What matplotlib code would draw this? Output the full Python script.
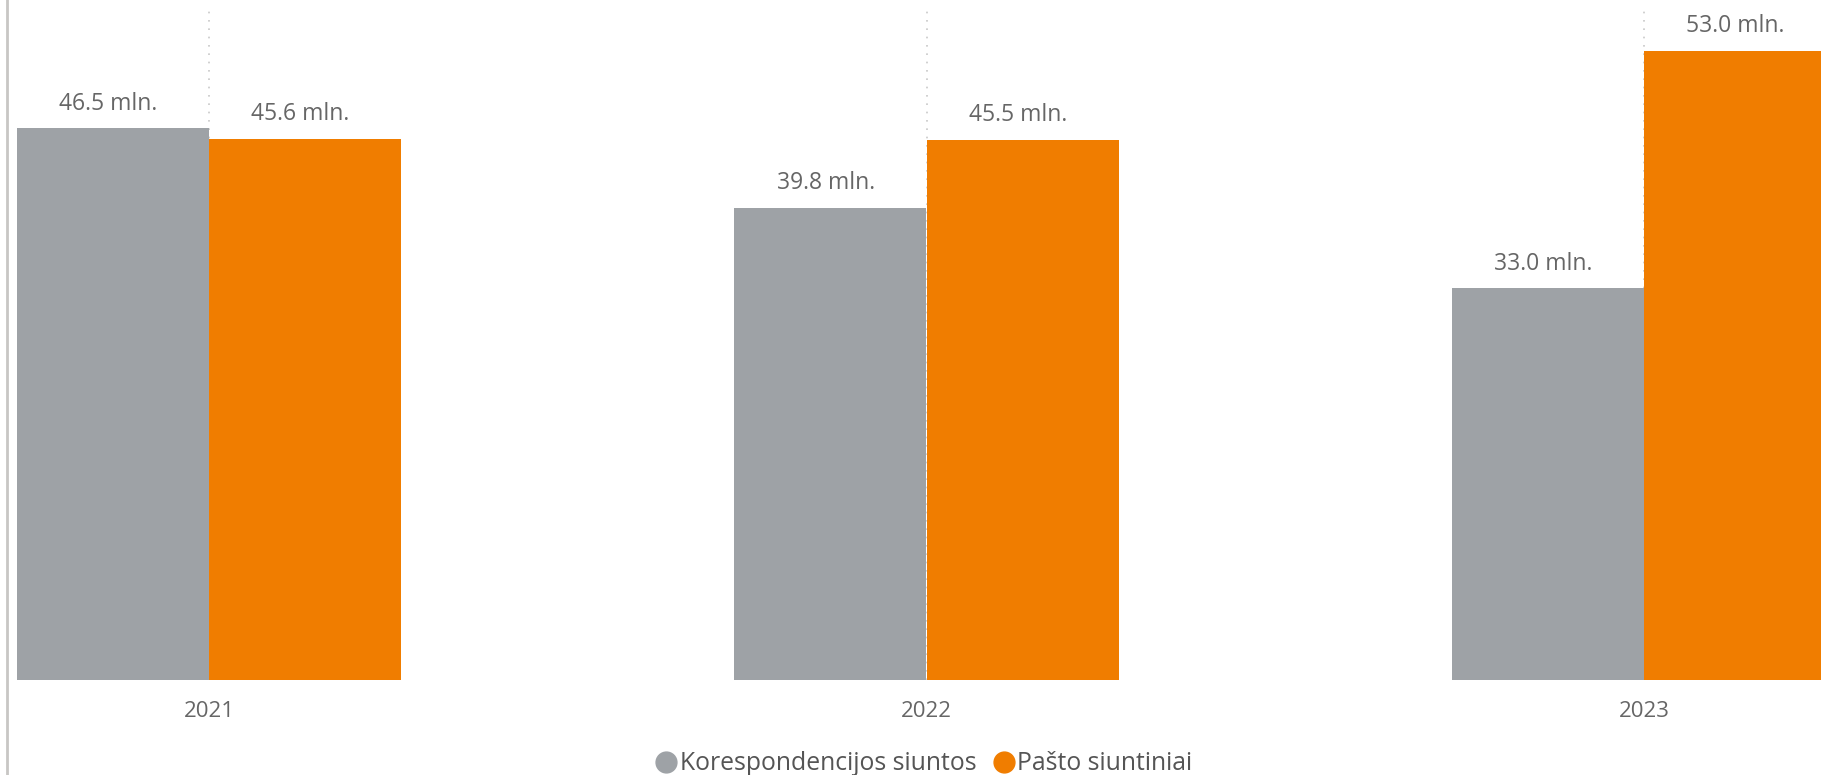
import matplotlib

matplotlib.use("Agg")

import matplotlib.pyplot as plt
from matplotlib.lines import Line2D
import numpy as np


years = ["2021", "2022", "2023"]
korespondencija = [46.5, 39.8, 33.0]
siuntiniai = [45.6, 45.5, 53.0]
series_names = ["Korespondencijos siuntos", "Pašto siuntiniai"]

GRAY = "#9EA2A6"
ORANGE = "#F07D00"
TEXT = "#666666"

plt.rcParams["font.family"] = ["Open Sans", "DejaVu Sans"]

fig = plt.figure(figsize=(18.21, 7.75), dpi=100)

# axes placed by pixel so the 2023 group runs off the right edge like the original
W, H = 1821, 775
ax = fig.add_axes([0, (H - 680) / H, 1, (680 - 11) / H])

x = np.arange(len(years))
width = 192 / 717.5
step = 717.5
ax.set_xlim(-209 / step, (W - 209) / step)
ax.set_ylim(0, (680 - 11) / 11.87)

for xi in x:
    ax.axvline(xi, color="#C8C8C8", linestyle=(0, (1, 4)), linewidth=1.2, zorder=0)

ax.bar(x - width / 2, korespondencija, width, color=GRAY, zorder=2)
ax.bar(x + width / 2, siuntiniai, width, color=ORANGE, zorder=2)

for xi, a, b in zip(x, korespondencija, siuntiniai):
    ax.annotate(f"{a:.1f} mln.", (xi - width / 2, a), xytext=(-3.5, 9),
                textcoords="offset points", ha="center", va="bottom",
                fontsize=16.5, color=TEXT)
    ax.annotate(f"{b:.1f} mln.", (xi + width / 2, b), xytext=(-3.5, 9),
                textcoords="offset points", ha="center", va="bottom",
                fontsize=16.5, color=TEXT)

ax.set_xticks(x)
ax.set_xticklabels(years, fontsize=16, color=TEXT)
ax.tick_params(axis="x", length=0, pad=15)
ax.set_yticks([])
for spine in ax.spines.values():
    spine.set_visible(False)

# left border line of the visual
fig.add_artist(Line2D([7 / W, 7 / W], [0, 1], color="#C8C6C4", linewidth=2))

handles = [
    Line2D([], [], marker="o", linestyle="", markersize=15, color=GRAY),
    Line2D([], [], marker="o", linestyle="", markersize=15, color=ORANGE),
]
leg = fig.legend(handles, series_names, loc="center", bbox_to_anchor=(923 / W, 1 - 764 / H),
                 ncol=2, frameon=False, fontsize=17.8, handletextpad=0.05,
                 columnspacing=0.6, handlelength=1.0)
for t in leg.get_texts():
    t.set_color("#555555")

fig.savefig("out.png", dpi=100)
